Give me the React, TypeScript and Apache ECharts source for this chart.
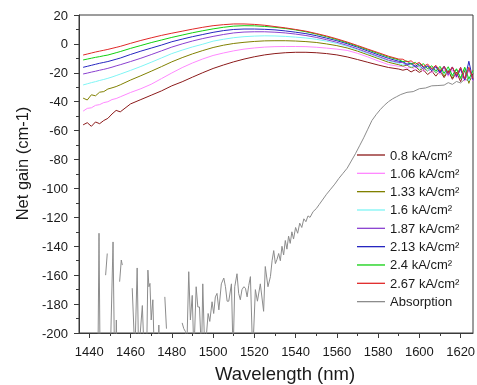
import React, { useEffect, useRef } from "react";
import * as echarts from "echarts";

// Shared wavelength grid (nm) for the gain curves
const wavelengths = [
  1437, 1439, 1441, 1443, 1445, 1447, 1449, 1451, 1453, 1455,
  1460, 1465, 1470, 1475, 1480, 1485, 1490, 1495, 1500, 1505, 1510, 1515, 1520, 1525,
  1530, 1535, 1540, 1545, 1550, 1555, 1560, 1565, 1570, 1575, 1580, 1585, 1590,
  1592, 1594, 1596, 1598, 1600, 1602, 1604, 1606, 1608, 1610, 1612, 1614, 1616, 1618,
  1620, 1622, 1624, 1626,
];

const gain08 = [
  -56.0, -54.5, -57.0, -54.0, -55.2, -53.0, -51.5, -48.5, -46.0, -47.0,
  -41.5, -38.5, -35.5, -32.5, -29.0, -26.2, -23.0, -19.9, -17.0, -14.6, -12.4, -10.5, -8.9, -7.6,
  -6.7, -6.1, -5.8, -5.8, -6.1, -6.7, -7.6, -9.0, -10.8, -12.7, -14.6, -16.3, -17.4,
  -18.2, -17.5, -19.4, -17.8, -19.7, -18.0, -21.2, -18.8, -22.3, -18.7, -23.3, -18.6, -24.5, -19.6,
  -26.1, -18.2, -26.2, -20.5,
];
const gain106 = [
  -46.5, -44.6, -44.2, -42.5, -42.0, -40.6, -40.0, -38.5, -37.8, -36.6,
  -33.6, -31.0, -27.9, -24.0, -20.1, -16.4, -13.2, -10.4, -8.0, -6.3, -4.8, -3.6, -2.8, -2.2,
  -1.9, -1.8, -1.8, -1.9, -2.3, -2.9, -3.6, -4.5, -6.5, -9.0, -11.8, -14.3, -15.5,
  -15.4, -16.9, -15.9, -18.0, -16.4, -19.0, -16.9, -20.1, -17.4, -21.2, -17.8, -22.4, -18.0, -23.7,
  -18.1, -25.8, -17.9, -25.8,
];
const gain133 = [
  -37.5, -38.8, -35.2, -35.9, -33.4, -33.0, -31.2, -30.4, -29.5, -28.3,
  -25.0, -22.0, -18.9, -15.7, -12.4, -9.5, -6.9, -4.6, -2.5, -0.9, 0.3, 1.1, 1.7, 2.1,
  2.2, 2.2, 2.0, 1.6, 1.0, 0.0, -1.2, -2.8, -5.0, -7.5, -10.1, -12.7, -14.4,
  -15.3, -14.7, -16.5, -15.4, -18.3, -16.7, -18.8, -16.4, -20.2, -16.9, -22.3, -18.1, -23.5, -17.5,
  -23.6, -16.8, -27.3, -18.2,
];
const gain16 = [
  -28.4, -27.6, -26.8, -26.1, -25.3, -24.6, -23.8, -22.9, -21.9, -20.9,
  -18.3, -15.6, -12.7, -9.7, -6.7, -4.3, -2.1, -0.2, 1.9, 3.2, 4.3, 5.0, 5.4, 5.6,
  5.5, 5.2, 4.7, 4.1, 3.2, 1.9, 0.3, -1.7, -4.0, -6.6, -9.2, -11.7, -13.4,
  -14.6, -14.1, -16.1, -14.9, -17.4, -15.7, -18.7, -16.3, -19.8, -16.8, -21.0, -17.2, -22.4, -17.5,
  -23.9, -17.0, -25.7, -18.6,
];
const gain187 = [
  -20.8, -20.2, -19.5, -18.9, -18.2, -17.6, -16.9, -16.1, -15.2, -14.4,
  -12.2, -9.9, -7.4, -4.8, -2.2, 0.0, 2.0, 3.7, 5.2, 6.5, 7.6, 8.2, 8.4, 8.4,
  8.1, 7.6, 6.8, 5.8, 4.5, 2.9, 1.1, -1.0, -3.4, -6.0, -8.6, -11.2, -12.8,
  -13.0, -14.7, -13.7, -16.2, -15.1, -17.6, -15.2, -18.4, -15.7, -20.1, -16.2, -21.6, -16.4, -22.0,
  -16.2, -24.8, -17.5, -23.9,
];
const gain213 = [
  -16.2, -15.5, -14.8, -14.1, -13.4, -12.8, -12.2, -11.4, -10.6, -9.8,
  -7.3, -5.0, -2.9, -0.8, 1.5, 3.3, 5.0, 6.5, 8.0, 9.2, 10.0, 10.3, 10.3, 10.1,
  9.7, 9.0, 8.1, 7.1, 5.7, 4.0, 2.2, 0.1, -2.3, -4.9, -7.5, -10.0, -12.0,
  -12.3, -14.0, -13.3, -15.5, -13.7, -16.3, -15.2, -18.6, -15.7, -19.9, -15.4, -20.4, -15.9, -22.7,
  -17.4, -25.0, -12.0, -25.2,
];
const gain24 = [
  -11.1, -10.5, -9.9, -9.3, -8.8, -8.2, -7.7, -6.9, -6.1, -5.3,
  -3.1, -1.1, 0.9, 2.7, 4.5, 6.1, 7.7, 9.1, 10.4, 11.5, 12.3, 12.6, 12.5, 12.1,
  11.5, 10.7, 9.7, 8.4, 6.8, 5.0, 3.0, 0.8, -1.6, -4.1, -6.6, -9.1, -11.0,
  -12.2, -11.8, -14.1, -12.8, -15.1, -13.7, -17.2, -15.1, -18.9, -15.5, -20.3, -15.8, -21.9, -17.2,
  -23.9, -16.1, -24.2, -18.6,
];
const gain267 = [
  -7.7, -7.0, -6.3, -5.6, -5.0, -4.4, -3.8, -3.1, -2.4, -1.7,
  0.4, 2.4, 4.2, 5.9, 7.4, 8.8, 10.2, 11.5, 12.6, 13.3, 13.8, 13.8, 13.5, 12.9,
  12.0, 11.1, 10.0, 8.8, 7.2, 5.5, 3.5, 1.3, -1.1, -3.6, -6.0, -8.5, -10.5,
  -10.6, -12.4, -11.7, -14.1, -12.8, -15.7, -13.9, -17.3, -14.8, -18.8, -15.6, -20.3, -16.0, -21.8,
  -16.3, -24.0, -16.1, -24.0,
];

// Absorption curve (own sampling). -215 = below the axis floor; null = gap in the data
const absWavelengths = [
  1437, 1444.2, 1444.7, 1445.2, 1446, 1447.9, 1448.7, 1449.2, 1450.2, 1451.5, 1452.2, 1452.8,
  1453.1, 1453.4, 1454, 1454.7, 1455.5, 1456, 1456.5, 1460.8, 1462.1, 1463.2, 1463.9, 1465.7,
  1466.6, 1467.8, 1468.4, 1468.9, 1469.4, 1470, 1470.8, 1471.5, 1473.4, 1473.7, 1474, 1475,
  1476.6, 1477.4, 1478, 1484.8, 1485, 1485.8, 1486.6, 1487.2, 1488.2, 1489, 1489.9, 1490.7,
  1491.8, 1492.6, 1493.4, 1494.4, 1495, 1496, 1497.6, 1498.4, 1499.5, 1500.3, 1501.1, 1501.9,
  1502.8, 1504, 1505.2, 1506, 1506.8, 1507.6, 1508.9, 1509.7, 1510.5, 1511.6, 1512.4, 1513.2,
  1514, 1514.9, 1515.7, 1516.5, 1517.3, 1518.1, 1519.2, 1520.5, 1521.5, 1522.9, 1524.5, 1525.3,
  1526.6, 1527.8, 1528.6, 1529.4, 1530.2, 1531, 1531.8, 1532.6, 1533.4, 1534.2, 1535, 1535.8,
  1536.6, 1537.4, 1538.2, 1539, 1540, 1541, 1542, 1543, 1544, 1545, 1546, 1547, 1548.5, 1550,
  1551.5, 1553, 1555, 1557, 1559, 1561, 1563, 1565, 1567, 1569, 1571, 1573, 1575, 1577, 1579,
  1581, 1583, 1585, 1587, 1589, 1591, 1594, 1597, 1600, 1603, 1606, 1609, 1612, 1614, 1616,
  1618, 1620, 1622, 1624, 1626,
];
const absValues = [
  -215, -215, -131, -215, null, -160, -145, null, -215, -137, -215, -215,
  -191, -215, null, -164.5, -149.5, -153, null, -169, -215, -155, -215, -181,
  -215, -215, -156.5, -168, -165.7, -191, -177, -215, -215, -194.5, -215, null,
  -175, -197, null, null, -193, -197, -199, -215, -157.6, -191, -174, -215,
  -168, -182, -182, -215, -166, -215, -186.5, -192, -178.4, -186.5, -175, -172.6,
  -184, -166, -162, -168, -178, -178, -166, -215, -168, -159, -172.6, -177,
  -170, -168, -169, -175, -167, -161, -215, -170, -178, -166, -185, -154,
  -168, -161, -150, -143, -152, -149, -145, -150, -140, -146, -136, -142,
  -133, -138, -130, -135, -127, -131, -124, -127, -121, -123, -119, -120, -116, -114,
  -111, -108, -104, -100.5, -97, -93, -89.5, -86, -81, -76, -70.5, -65, -59, -53, -49,
  -45.5, -42.5, -40, -38, -36.5, -35, -33.5, -33, -31, -30.5, -29, -28.8, -28.5, -26.8, -28,
  -26, -27, -24.5, -25.5, -23,
];

const seriesNames = [
  "0.8 kA/cm²", "1.06 kA/cm²", "1.33 kA/cm²", "1.6 kA/cm²",
  "1.87 kA/cm²", "2.13 kA/cm²", "2.4 kA/cm²", "2.67 kA/cm²", "Absorption",
];
const gainSeries = [gain08, gain106, gain133, gain16, gain187, gain213, gain24, gain267];

const xMajorTicks = [1440, 1460, 1480, 1500, 1520, 1540, 1560, 1580, 1600, 1620];
const xMinorTicks = [1450, 1470, 1490, 1510, 1530, 1550, 1570, 1590, 1610];

const colors = [
  "#8b1a1a", "#ff88ff", "#808000", "#7ff5f5",
  "#8a40d0", "#2626c0", "#10d010", "#e02828", "#8c8c8c",
];

const FONT = "'Liberation Sans', Arial, sans-serif";
const AXIS_COLOR = "#3a3a3a";
const TEXT_COLOR = "#1a1a1a";

export default function App() {
  const ref = useRef<HTMLDivElement>(null);

  useEffect(() => {
    if (!ref.current) return;
    const chart = echarts.init(ref.current, null, { renderer: "svg" });

    const series: any[] = gainSeries.map((vals, k) => ({
      name: seriesNames[k],
      type: "line",
      symbol: "none",
      clip: true,
      data: wavelengths.map((w, i) => [w, vals[i]]),
      lineStyle: { width: 1, color: colors[k] },
      itemStyle: { color: colors[k] },
      z: 3,
    }));
    series.push({
      name: seriesNames[8],
      type: "line",
      symbol: "none",
      clip: true,
      connectNulls: false,
      data: absWavelengths.map((w, i) => [w, absValues[i] === null ? "-" : absValues[i]]),
      lineStyle: { width: 1, color: colors[8] },
      itemStyle: { color: colors[8] },
      z: 2,
    });

    chart.setOption({
      animation: false,
      textStyle: { fontFamily: FONT },
      grid: {
        left: 79,
        top: 15,
        right: 4,
        bottom: 52,
        containLabel: false,
        outerBoundsMode: "none",
        show: true,
        borderColor: AXIS_COLOR,
        borderWidth: 1,
      },
      legend: {
        orient: "vertical",
        left: 352,
        top: 143.5,
        icon: "rect",
        itemWidth: 28,
        itemHeight: 1.3,
        itemGap: 5.33,
        data: seriesNames,
        textStyle: { fontSize: 13, color: TEXT_COLOR, lineHeight: 13, height: 13, fontFamily: FONT },
      },
      xAxis: [
        {
          type: "value",
          min: 1435,
          max: 1626,
          position: "bottom",
          name: "Wavelength (nm)",
          nameLocation: "middle",
          nameGap: 31,
          nameTextStyle: { fontSize: 18.5, color: TEXT_COLOR, padding: [0, 0, 0, 18], fontFamily: FONT },
          axisLine: { show: true, onZero: false, lineStyle: { color: AXIS_COLOR, width: 1 } },
          axisTick: { show: true, length: 5, customValues: xMajorTicks, lineStyle: { color: AXIS_COLOR } },
          axisLabel: {
            customValues: xMajorTicks,
            formatter: (v: number) => String(v),
            fontSize: 13,
            color: TEXT_COLOR,
            margin: 12,
            fontFamily: FONT,
          },
          splitLine: { show: false },
        },
        {
          type: "value",
          min: 1435,
          max: 1626,
          position: "bottom",
          axisLine: { show: false, onZero: false },
          axisTick: { show: true, length: 3, customValues: xMinorTicks, lineStyle: { color: AXIS_COLOR } },
          axisLabel: { show: false },
          splitLine: { show: false },
        },
      ],
      yAxis: {
        type: "value",
        min: -200,
        max: 20,
        interval: 20,
        name: "Net gain (cm-1)",
        nameLocation: "middle",
        nameGap: 49,
        nameTextStyle: { fontSize: 16.5, color: TEXT_COLOR, padding: [0, 0, 0, 21], fontFamily: FONT },
        axisLine: { show: true, onZero: false, lineStyle: { color: AXIS_COLOR, width: 1 } },
        axisTick: { show: true, length: 5, lineStyle: { color: AXIS_COLOR } },
        minorTick: { show: true, splitNumber: 2, length: 3, lineStyle: { color: AXIS_COLOR } },
        axisLabel: { fontSize: 13, color: TEXT_COLOR, margin: 11, fontFamily: FONT },
        splitLine: { show: false },
        minorSplitLine: { show: false },
      },
      series,
    });

    return () => chart.dispose();
  }, []);

  return (
    <div
      ref={ref}
      style={{ position: "fixed", left: 0, top: 0, width: 477, height: 385 }}
    />
  );
}
